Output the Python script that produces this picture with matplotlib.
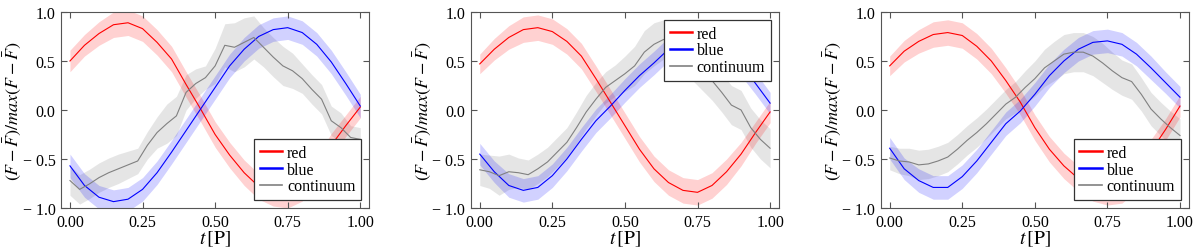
import numpy as np
import matplotlib
matplotlib.use('Agg')
import matplotlib.pyplot as plt

plt.rcParams['font.family'] = ['Liberation Serif', 'DejaVu Serif']
plt.rcParams['mathtext.fontset'] = 'stix'
plt.rcParams['font.size'] = 11.5

# phase grid for the red / blue wing curves and for the continuum
t_wing = [0.00, 0.05, 0.10, 0.15, 0.20, 0.25, 0.30, 0.35, 0.40, 0.45, 0.50,
          0.55, 0.60, 0.65, 0.70, 0.75, 0.80, 0.85, 0.90, 0.95, 1.00]
t_cont = [k / 30 for k in range(31)]

x_ticks = [0, 0.25, 0.5, 0.75, 1.0]
x_tick_labels = ['0.00', '0.25', '0.50', '0.75', '1.00']
y_ticks = [-1, -0.5, 0, 0.5, 1.0]
y_tick_labels = ['\u2212 1.0', '\u2212 0.5', '0.0', '0.5', '1.0']

# panel 1
red1 = [0.50, 0.66, 0.78, 0.87, 0.89, 0.83, 0.69, 0.52, 0.26, 0.01, -0.25,
        -0.46, -0.64, -0.78, -0.85, -0.87, -0.80, -0.60, -0.36, -0.16, 0.03]
red1_err = [0.11, 0.11, 0.12, 0.13, 0.13, 0.13, 0.13, 0.13, 0.13, 0.13, 0.13,
            0.13, 0.13, 0.13, 0.13, 0.13, 0.13, 0.13, 0.12, 0.11, 0.11]
blue1 = [-0.57, -0.77, -0.89, -0.935, -0.91, -0.81, -0.64, -0.43, -0.21, 0.01, 0.23,
         0.45, 0.62, 0.75, 0.82, 0.84, 0.79, 0.67, 0.49, 0.27, 0.04]
blue1_err = [0.12, 0.12, 0.12, 0.12, 0.12, 0.12, 0.12, 0.12, 0.12, 0.12, 0.12,
             0.12, 0.12, 0.12, 0.12, 0.12, 0.12, 0.12, 0.12, 0.12, 0.12]
cont1 = [-0.72, -0.81, -0.755, -0.69, -0.64, -0.60, -0.56, -0.52, -0.36, -0.23, -0.14,
         -0.06, 0.18, 0.27, 0.33, 0.45, 0.66, 0.64, 0.69, 0.74, 0.64,
         0.54, 0.45, 0.40, 0.32, 0.21, 0.11, -0.11, -0.18, -0.28, -0.30]
cont1_err = [0.15, 0.15, 0.15, 0.15, 0.15, 0.15, 0.14, 0.13, 0.14, 0.16, 0.20,
             0.20, 0.18, 0.15, 0.12, 0.18, 0.22, 0.25, 0.25, 0.22, 0.20,
             0.20, 0.20, 0.18, 0.15, 0.15, 0.15, 0.15, 0.15, 0.12, 0.12]

# panel 2
red2 = [0.47, 0.62, 0.74, 0.82, 0.84, 0.80, 0.70, 0.55, 0.32, 0.08, -0.16,
        -0.40, -0.60, -0.74, -0.82, -0.84, -0.77, -0.63, -0.45, -0.23, -0.02]
red2_err = [0.10, 0.11, 0.12, 0.13, 0.13, 0.13, 0.13, 0.13, 0.13, 0.13, 0.13,
            0.13, 0.13, 0.13, 0.13, 0.13, 0.13, 0.13, 0.12, 0.11, 0.11]
blue2 = [-0.45, -0.63, -0.77, -0.82, -0.79, -0.67, -0.50, -0.30, -0.11, 0.04, 0.20,
         0.35, 0.48, 0.62, 0.72, 0.76, 0.74, 0.64, 0.47, 0.27, 0.07]
blue2_err = [0.11, 0.11, 0.12, 0.12, 0.12, 0.12, 0.12, 0.12, 0.12, 0.12, 0.12,
             0.12, 0.12, 0.12, 0.12, 0.12, 0.12, 0.12, 0.12, 0.11, 0.11]
cont2 = [-0.61, -0.63, -0.67, -0.63, -0.64, -0.66, -0.60, -0.53, -0.43, -0.33, -0.18,
         -0.02, 0.11, 0.23, 0.30, 0.37, 0.45, 0.59, 0.67, 0.72, 0.68,
         0.60, 0.50, 0.40, 0.30, 0.18, 0.05, 0.00, -0.18, -0.30, -0.39]
cont2_err = [0.16, 0.17, 0.20, 0.18, 0.15, 0.15, 0.15, 0.15, 0.15, 0.15, 0.16,
             0.17, 0.17, 0.16, 0.16, 0.18, 0.20, 0.22, 0.22, 0.20, 0.20,
             0.20, 0.20, 0.20, 0.20, 0.20, 0.20, 0.20, 0.20, 0.20, 0.20]

# panel 3
red3 = [0.45, 0.60, 0.70, 0.77, 0.79, 0.76, 0.65, 0.50, 0.30, 0.08, -0.18,
        -0.40, -0.57, -0.70, -0.80, -0.84, -0.82, -0.70, -0.42, -0.20, 0.04]
red3_err = [0.10, 0.11, 0.12, 0.13, 0.13, 0.13, 0.13, 0.13, 0.13, 0.13, 0.13,
            0.13, 0.13, 0.13, 0.13, 0.13, 0.13, 0.13, 0.12, 0.11, 0.11]
blue3 = [-0.39, -0.60, -0.72, -0.79, -0.79, -0.68, -0.52, -0.33, -0.14, -0.01, 0.16,
         0.35, 0.50, 0.62, 0.69, 0.705, 0.67, 0.57, 0.43, 0.28, 0.13]
blue3_err = [0.11, 0.11, 0.12, 0.12, 0.12, 0.12, 0.12, 0.12, 0.12, 0.12, 0.12,
             0.12, 0.12, 0.12, 0.12, 0.12, 0.12, 0.12, 0.12, 0.11, 0.11]
cont3 = [-0.49, -0.52, -0.53, -0.56, -0.55, -0.52, -0.48, -0.40, -0.31, -0.23, -0.14,
         -0.04, 0.06, 0.13, 0.23, 0.32, 0.43, 0.50, 0.57, 0.59, 0.59,
         0.55, 0.48, 0.40, 0.33, 0.29, 0.16, 0.01, -0.09, -0.18, -0.26]
cont3_err = [0.12, 0.13, 0.14, 0.15, 0.15, 0.15, 0.15, 0.15, 0.15, 0.15, 0.15,
             0.15, 0.15, 0.16, 0.17, 0.18, 0.19, 0.20, 0.20, 0.20, 0.20,
             0.20, 0.20, 0.19, 0.18, 0.18, 0.17, 0.17, 0.17, 0.17, 0.17]

panels = [
    (red1, red1_err, blue1, blue1_err, cont1, cont1_err, 'lower right'),
    (red2, red2_err, blue2, blue2_err, cont2, cont2_err, 'upper right'),
    (red3, red3_err, blue3, blue3_err, cont3, cont3_err, 'lower right'),
]
lefts = [0.0508, 0.3923, 0.7339]

fig = plt.figure(figsize=(12, 2.51), dpi=100)
tw = np.array(t_wing)
tc = np.array(t_cont)

for left, (r, re, b, be, c, ce, loc) in zip(lefts, panels):
    ax = fig.add_axes([left, 0.1673, 0.2567, 0.781])
    r, re, b, be, c, ce = map(np.array, (r, re, b, be, c, ce))
    ax.fill_between(tc, c - ce, c + ce, color='grey', alpha=0.2, lw=0)
    ax.fill_between(tw, r - re, r + re, color='red', alpha=0.18, lw=0)
    ax.fill_between(tw, b - be, b + be, color='blue', alpha=0.18, lw=0)
    ax.plot(tw, r, color='red', lw=0.8, label='red')
    ax.plot(tw, b, color='blue', lw=0.8, label='blue')
    ax.plot(tc, c, color='grey', lw=0.8, label='continuum')

    ax.set_xlim(-0.031, 1.03)
    ax.set_ylim(-1, 1)
    ax.set_xticks(x_ticks)
    ax.set_xticklabels(x_tick_labels)
    ax.set_yticks(y_ticks)
    ax.set_yticklabels(y_tick_labels)
    ax.tick_params(direction='in', top=True, right=True, length=4,
                   color='#555555', labelsize=11.5, pad=4)
    for sp in ax.spines.values():
        sp.set_color('#555555')
    ax.set_xlabel(r'$t\,[\mathrm{P}]$', fontsize=14, labelpad=-1)
    ax.set_ylabel(r'$(F-\bar{F})/max(F-\bar{F})$', fontsize=13)
    ax.yaxis.set_label_coords(-0.122, 0.5)

    leg = ax.legend(loc=loc, fancybox=False, framealpha=1, edgecolor='#333333',
                    handlelength=1.4, handletextpad=0.3, borderpad=0.35,
                    labelspacing=0.05, fontsize=11.5, borderaxespad=0.5)
    leg.get_frame().set_linewidth(0.9)
    for h in leg.get_lines()[:2]:
        h.set_linewidth(1.8)
    leg.get_lines()[2].set_linewidth(1.2)

plt.savefig('out.png', dpi=100)
plt.close()
